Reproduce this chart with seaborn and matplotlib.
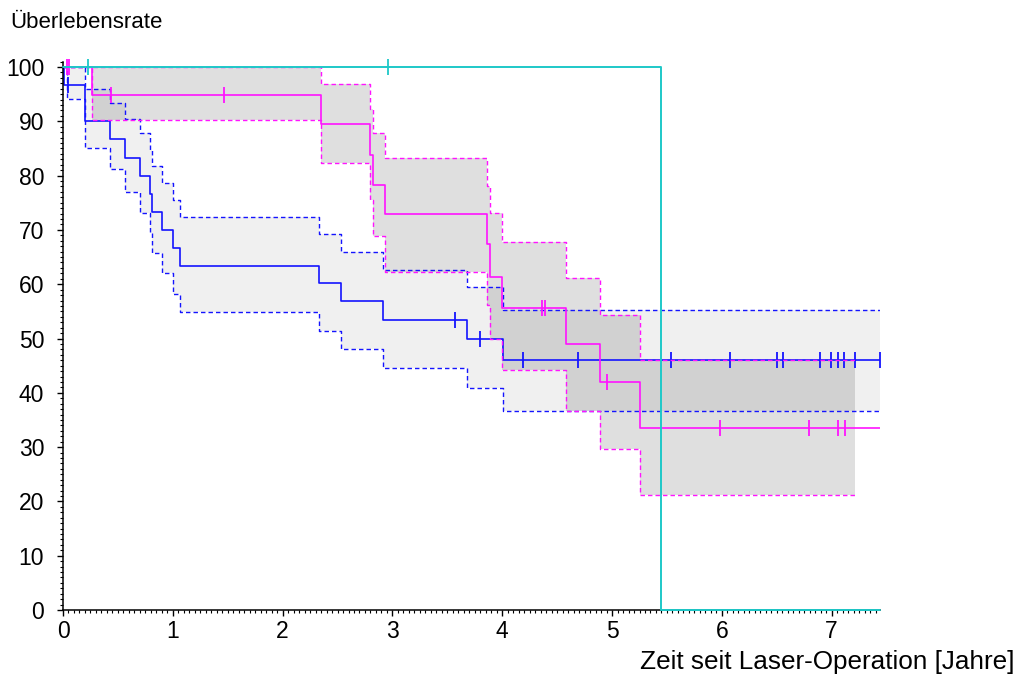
import numpy as np
import pandas as pd
import matplotlib
matplotlib.use("Agg")
import matplotlib.pyplot as plt
import seaborn as sns
from matplotlib.ticker import MultipleLocator

# ---------------- data ----------------
# blue group: Kaplan-Meier estimate (step times in years, survival in %)
blue_t = [0, 0.005, 0.20, 0.43, 0.565, 0.705, 0.795, 0.81, 0.90, 1.00, 1.07, 2.33, 2.53, 2.91, 3.68, 4.01, 7.44]
blue_s = [100, 96.7, 90.0, 86.7, 83.3, 80.0, 76.7, 73.3, 70.0, 66.7, 63.3, 60.3, 57.0, 53.5, 50.0, 46.0, 46.0]
blue_ci_t = [0, 0.035, 0.20, 0.43, 0.565, 0.705, 0.795, 0.81, 0.90, 1.00, 1.07, 2.33, 2.53, 2.91, 3.68, 4.01, 7.44]
blue_up = [100, 100, 95.9, 93.3, 90.5, 87.8, 84.8, 81.8, 78.6, 75.5, 72.3, 69.2, 66.0, 62.7, 59.4, 55.2, 55.2]
blue_lo = [100, 94.1, 85.0, 81.2, 77.0, 73.2, 69.4, 65.7, 62.0, 58.2, 54.8, 51.4, 48.1, 44.5, 40.8, 36.7, 36.7]
blue_cens_t = [0.05, 3.57, 3.80, 4.19, 4.69, 5.54, 6.07, 6.50, 6.56, 6.89, 6.99, 7.06, 7.11, 7.21, 7.44]
blue_cens_s = [96.7, 53.5, 50.0, 46.0, 46.0, 46.0, 46.0, 46.0, 46.0, 46.0, 46.0, 46.0, 46.0, 46.0, 46.0]

# magenta group
mag_t = [0, 0.26, 2.345, 2.80, 2.82, 2.93, 3.865, 3.885, 4.00, 4.58, 4.89, 5.25, 7.44]
mag_s = [100, 94.8, 89.5, 83.8, 78.3, 72.9, 67.4, 61.4, 55.7, 48.9, 42.0, 33.6, 33.6]
mag_ci_t = [0, 0.26, 2.345, 2.80, 2.82, 2.93, 3.865, 3.885, 4.00, 4.58, 4.89, 5.25, 7.21]
mag_up = [100, 100, 96.8, 92.2, 87.9, 83.2, 78.1, 73.2, 67.8, 61.1, 54.3, 46.0, 46.0]
mag_lo = [100, 90.2, 82.4, 75.6, 68.8, 62.3, 56.2, 50.0, 44.2, 36.7, 29.6, 21.1, 21.1]
mag_cens_t = [0.04, 0.055, 0.44, 1.465, 4.365, 4.39, 4.95, 5.98, 6.79, 7.06, 7.12]
mag_cens_s = [100, 100, 94.8, 94.8, 55.7, 55.7, 42.0, 33.6, 33.6, 33.6, 33.6]

# cyan group
cyan_t = [0, 5.45, 7.44]
cyan_s = [100, 0, 0]
cyan_cens_t = [0.23, 2.96]
cyan_cens_s = [100, 100]

x_ticks = [0, 1, 2, 3, 4, 5, 6, 7]
y_ticks = [0, 10, 20, 30, 40, 50, 60, 70, 80, 90, 100]
x_label = "Zeit seit Laser-Operation [Jahre]"
y_label = "Überlebensrate"

BLUE = "#1414ff"
MAG = "#ff14ff"
CYAN = "#1ec8c8"

# ---------------- figure ----------------
sns.set_theme(style="white")
plt.rcParams["font.family"] = ["Liberation Sans", "DejaVu Sans"]

fig = plt.figure(figsize=(10.18, 6.77), dpi=100)
ax = fig.add_axes([63 / 1018, 1 - 610 / 677, (880 - 63) / 1018, (610 - 61.6) / 677])

# confidence bands
ax.fill_between(blue_ci_t, blue_lo, blue_up, step="post", color="black", alpha=0.059, linewidth=0)
ax.fill_between(mag_ci_t, mag_lo, mag_up, step="post", color="black", alpha=0.125, linewidth=0)

dash = (0, (3.2, 2.2))
ci_lw = 1.0
km_lw = 1.2

df_blue = pd.DataFrame({"t": blue_t, "s": blue_s})
df_mag = pd.DataFrame({"t": mag_t, "s": mag_s})
df_cyan = pd.DataFrame({"t": cyan_t, "s": cyan_s})

for lim in (blue_up, blue_lo):
    sns.lineplot(x=blue_ci_t, y=lim, ax=ax, color=BLUE, drawstyle="steps-post",
                 estimator=None, sort=False, linewidth=ci_lw, linestyle=dash)
sns.lineplot(data=df_blue, x="t", y="s", ax=ax, color=BLUE, drawstyle="steps-post",
             estimator=None, sort=False, linewidth=km_lw)
ax.plot(blue_cens_t, blue_cens_s, linestyle="none", marker="|", markersize=11,
        markeredgewidth=1.3, color=BLUE, clip_on=False)

for lim in (mag_up, mag_lo):
    sns.lineplot(x=mag_ci_t, y=lim, ax=ax, color=MAG, drawstyle="steps-post",
                 estimator=None, sort=False, linewidth=ci_lw, linestyle=dash)
sns.lineplot(data=df_mag, x="t", y="s", ax=ax, color=MAG, drawstyle="steps-post",
             estimator=None, sort=False, linewidth=km_lw)
ax.plot(mag_cens_t, mag_cens_s, linestyle="none", marker="|", markersize=11,
        markeredgewidth=1.3, color=MAG, clip_on=False)

sns.lineplot(data=df_cyan, x="t", y="s", ax=ax, color=CYAN, drawstyle="steps-post",
             estimator=None, sort=False, linewidth=1.4, clip_on=False, zorder=5)
ax.plot(cyan_cens_t, cyan_cens_s, linestyle="none", marker="|", markersize=11,
        markeredgewidth=1.3, color=CYAN, clip_on=False, zorder=5)

# axes styling
ax.set_xlim(0, 7.44)
ax.set_ylim(0, 101)
ax.set_xticks(x_ticks)
ax.set_yticks(y_ticks)
ax.xaxis.set_minor_locator(MultipleLocator(0.05))
ax.yaxis.set_minor_locator(MultipleLocator(1))
ax.tick_params(axis="both", which="major", direction="out", length=4.5, width=1.0,
               colors="black", labelsize=16.5)
ax.tick_params(axis="y", which="major", pad=9)
ax.tick_params(axis="x", which="major", pad=3)
ax.tick_params(axis="both", which="minor", direction="out", length=2, width=0.8, colors="black")
ax.tick_params(axis="both", which="both", bottom=True, left=True, top=False, right=False)
for side in ("top", "right"):
    ax.spines[side].set_visible(False)
for side in ("left", "bottom"):
    ax.spines[side].set_color("black")
    ax.spines[side].set_linewidth(1.1)
ax.set_xlabel("")
ax.set_ylabel("")
ax.grid(False)

fig.text(10 / 1018, 1 - 23 / 677, y_label, ha="left", va="center", fontsize=16, color="black")
fig.text(1015 / 1018, 1 - 662 / 677, x_label, ha="right", va="center", fontsize=18.8, color="black")

fig.savefig("out.png", dpi=100)
